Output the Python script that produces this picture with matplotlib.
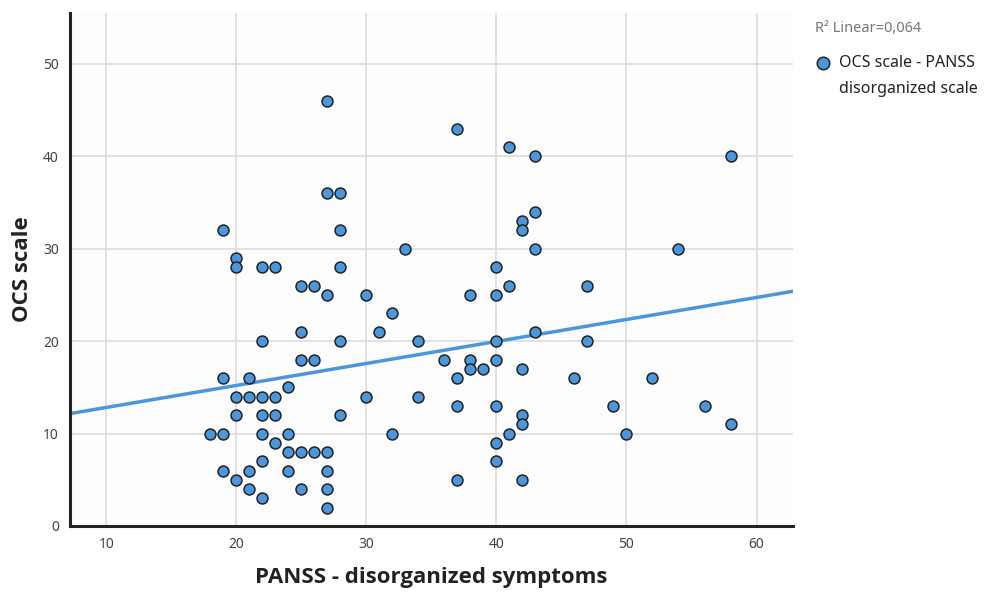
import numpy as np
import matplotlib
matplotlib.use('Agg')
import matplotlib.pyplot as plt

# PANSS disorganized score and OCS score for each patient
panss = [18,
         19, 19, 19, 19,
         20, 20, 20, 20, 20,
         21, 21, 21, 21,
         22, 22, 22, 22, 22, 22, 22,
         23, 23, 23, 23,
         24, 24, 24, 24,
         25, 25, 25, 25, 25,
         26, 26, 26,
         27, 27, 27, 27, 27, 27, 27,
         28, 28, 28, 28, 28,
         30, 30, 31, 32, 32, 33, 34, 34, 36,
         37, 37, 37, 37,
         38, 38, 38, 39,
         40, 40, 40, 40, 40, 40, 40,
         41, 41, 41,
         42, 42, 42, 42, 42, 42,
         43, 43, 43, 43,
         46, 47, 47, 49, 50, 52, 54, 56, 58, 58]
ocs = [10,
       10, 32, 16, 6,
       29, 28, 14, 12, 5,
       16, 14, 6, 4,
       28, 20, 14, 12, 10, 7, 3,
       28, 14, 12, 9,
       15, 10, 8, 6,
       26, 21, 18, 8, 4,
       26, 18, 8,
       46, 36, 25, 8, 6, 4, 2,
       36, 32, 28, 20, 12,
       25, 14, 21, 23, 10, 30, 20, 14, 18,
       43, 16, 13, 5,
       25, 18, 17, 17,
       28, 25, 20, 18, 13, 9, 7,
       41, 26, 10,
       33, 32, 17, 12, 11, 5,
       40, 34, 30, 21,
       16, 26, 20, 13, 10, 16, 30, 13, 40, 11]

xticks = [10, 20, 30, 40, 50, 60]
yticks = [0, 10, 20, 30, 40, 50]

x = np.array(panss, dtype=float)
y = np.array(ocs, dtype=float)

# linear fit
slope, intercept = np.polyfit(x, y, 1)

plt.rcParams['font.family'] = ['Noto Sans', 'DejaVu Sans']

fig = plt.figure(figsize=(9.85, 5.92), dpi=100)
ax = fig.add_axes([0.071, 0.1115, 0.734, 0.8665])
ax.set_facecolor('#fdfdfd')

ax.set_xlim(7.2, 62.8)
ax.set_ylim(0, 55.5)
ax.set_xticks(xticks)
ax.set_yticks(yticks)
ax.grid(True, color='#dcdcdc', linewidth=1.2)
ax.set_axisbelow(True)

lx = np.array(ax.get_xlim())
ax.plot(lx, intercept + slope * lx, color='#4a97db', linewidth=2.5, zorder=2)
ax.scatter(x, y, s=62, color='#4a97db', edgecolor='#222222', linewidth=1.1, zorder=3)

for side in ['top', 'right']:
    ax.spines[side].set_visible(False)
for side in ['left', 'bottom']:
    ax.spines[side].set_linewidth(2.2)
    ax.spines[side].set_color('#222222')
ax.tick_params(length=0, labelsize=10, labelcolor='#444444', pad=8)

ax.set_xlabel('PANSS - disorganized symptoms', fontsize=16, fontweight='bold',
              family=['Open Sans', 'DejaVu Sans'], color='#222222', labelpad=11)
ax.set_ylabel('OCS scale', fontsize=16, fontweight='bold',
              family=['Open Sans', 'DejaVu Sans'], color='#222222', labelpad=7)

# legend drawn by hand in the right margin
fig.text(0.827, 0.952, 'R² Linear=0,064', fontsize=10.5, color='#777777', va='center')
fig.lines.append(plt.Line2D([0.836], [0.893], transform=fig.transFigure, marker='o',
                            markersize=9, markerfacecolor='#4a97db',
                            markeredgecolor='#222222', markeredgewidth=1.1))
fig.text(0.852, 0.893, 'OCS scale - PANSS', fontsize=11.5, color='#222222', va='center')
fig.text(0.852, 0.850, 'disorganized scale', fontsize=11.5, color='#222222', va='center')

fig.savefig('out.png', dpi=100, facecolor='white')
